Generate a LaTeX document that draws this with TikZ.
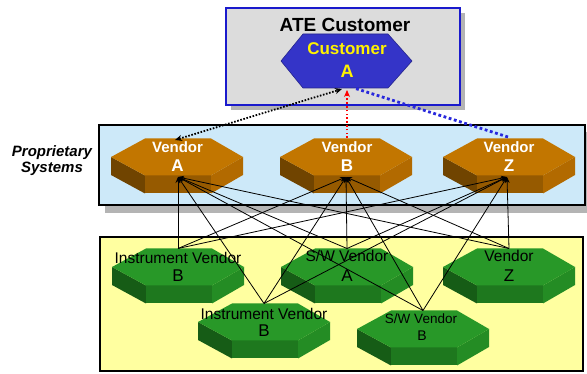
\documentclass[tikz,border=0pt]{standalone}
\usepackage{fontspec}
\setmainfont{Liberation Sans}
\usetikzlibrary{arrows.meta}

% face colours of the prisms
\definecolor{orTop}{RGB}{194,118,0}
\definecolor{orLeft}{RGB}{112,68,0}
\definecolor{orFront}{RGB}{150,90,0}
\definecolor{orRight}{RGB}{178,106,0}
\definecolor{grTop}{RGB}{40,152,40}
\definecolor{grLeft}{RGB}{22,92,22}
\definecolor{grFront}{RGB}{30,120,30}
\definecolor{grRight}{RGB}{36,140,36}
\definecolor{custBlue}{RGB}{52,52,200}
\definecolor{frameBlue}{RGB}{26,26,204}
\definecolor{panelGray}{RGB}{220,220,220}
\definecolor{panelBlue}{RGB}{205,233,249}
\definecolor{panelYellow}{RGB}{255,255,160}
\definecolor{shadowGray}{RGB}{180,180,180}
\definecolor{dotBlue}{RGB}{40,40,220}

% hexagonal prism: #1 centre of top face, #2..#5 top/left/front/right colours
\newcommand\drawprism[5]{%
  \begin{scope}[shift={#1}]
    \fill[#3] (-66,0) -- (-32,18.5) -- (-32,36.5) -- (-66,18) -- cycle;
    \fill[#4] (-32,18.5) -- (34,18.5) -- (34,36.5) -- (-32,36.5) -- cycle;
    \fill[#5] (34,18.5) -- (66,0) -- (66,18) -- (34,36.5) -- cycle;
    \fill[#2] (-32,-18.5) -- (34,-18.5) -- (66,0) -- (34,18.5) -- (-32,18.5) -- (-66,0) -- cycle;
  \end{scope}}

\tikzset{
  panel/.style={line width=1.8pt},
  shadow/.style={fill=shadowGray},
  link/.style={line width=0.8pt, -{Stealth[length=6pt,width=5pt]}},
  vtxt/.style={anchor=base, text=white, font=\bfseries\fontsize{15}{15}\selectfont, inner sep=0pt},
  vid/.style={anchor=base, text=white, font=\bfseries\fontsize{17}{17}\selectfont, inner sep=0pt},
  gtxt/.style={anchor=base, text=black, font=\fontsize{15.5}{15.5}\selectfont, inner sep=0pt},
  gid/.style={anchor=base, text=black, font=\fontsize{17}{17}\selectfont, inner sep=0pt},
}

\begin{document}
\begin{tikzpicture}[x=1pt, y=-1pt]
  \useasboundingbox[fill=white] (0,0) rectangle (587,374);

  % panels with drop shadows
  \fill[shadow] (231,13) rectangle (465,110);
  \draw[panel, draw=frameBlue, fill=panelGray, line width=2.5pt] (226,8) rectangle (460,105);
  \fill[shadow] (105,132) rectangle (591,213);
  \draw[panel, fill=panelBlue] (99,125) rectangle (585,205);
  \draw[panel, fill=panelYellow] (100,237) rectangle (583,371);

  % customer hexagon
  \filldraw[fill=custBlue, draw=custBlue!70!black, line width=0.6pt]
    (303,34) -- (388,34) -- (412,61) -- (388,88) -- (303,88) -- (281,61) -- cycle;

  % vendor prisms
  \drawprism{(177,157)}{orTop}{orLeft}{orFront}{orRight}
  \drawprism{(346,157)}{orTop}{orLeft}{orFront}{orRight}
  \drawprism{(509,157)}{orTop}{orLeft}{orFront}{orRight}

  % supplier prisms
  \drawprism{(178,267)}{grTop}{grLeft}{grFront}{grRight}
  \drawprism{(347,267)}{grTop}{grLeft}{grFront}{grRight}
  \drawprism{(509,267)}{grTop}{grLeft}{grFront}{grRight}
  \drawprism{(264,322)}{grTop}{grLeft}{grFront}{grRight}
  \drawprism{(423,329)}{grTop}{grLeft}{grFront}{grRight}

  % labels
  \node[anchor=base, inner sep=0pt, font=\bfseries\fontsize{19}{19}\selectfont] (ate) at (345,32) {ATE Customer};
  \node[anchor=base, inner sep=0pt, text=yellow, font=\bfseries\fontsize{17}{17}\selectfont] (custname) at (347,55) {Customer};
  \node[anchor=base, inner sep=0pt, text=yellow, font=\bfseries\fontsize{18}{18}\selectfont] (custid) at (347,78) {A};
  \node[anchor=base, inner sep=0pt, font=\bfseries\itshape\fontsize{15}{15}\selectfont] (prop1) at (52,157) {Proprietary};
  \node[anchor=base, inner sep=0pt, font=\bfseries\itshape\fontsize{15}{15}\selectfont] (prop2) at (52,173) {Systems};

  \node[vtxt] (vaname) at (177.5,153) {Vendor};
  \node[vid]  (vaid)   at (177.5,172) {A};
  \node[vtxt] (vbname) at (347,153) {Vendor};
  \node[vid]  (vbid)   at (347,172) {B};
  \node[vtxt] (vzname) at (509,153) {Vendor};
  \node[vid]  (vzid)   at (509,172) {Z};

  \node[gtxt] (ib1name) at (178,264) {Instrument Vendor};
  \node[gid]  (ib1id)   at (178,282) {B};
  \node[gtxt] (swaname) at (347,262) {S/W Vendor};
  \node[gid]  (swaid)   at (347,282) {A};
  \node[gtxt] (gzname)  at (509,262) {Vendor};
  \node[gid]  (gzid)    at (509,282) {Z};
  \node[gtxt] (ib2name) at (264,320) {Instrument Vendor};
  \node[gid]  (ib2id)   at (264,337) {B};
  \node[anchor=base, inner sep=0pt, font=\fontsize{13.5}{13.5}\selectfont] (swbname) at (421,324) {S/W Vendor};
  \node[anchor=base, inner sep=0pt, font=\fontsize{14}{14}\selectfont] (swbid) at (422,341) {B};

  % connection points
  \coordinate (vaIn) at (178,177);
  \coordinate (vbIn) at (346,177);
  \coordinate (vzIn) at (507,177);
  \coordinate (vaTop) at (175,140);
  \coordinate (vbTop) at (347,138);
  \coordinate (vzTop) at (508,137);
  \coordinate (custA) at (342,89);
  \coordinate (custB) at (347,90);
  \coordinate (custZ) at (354,88);
  \coordinate (ib1Top) at (178,248.5);
  \coordinate (swaTop) at (347,248.5);
  \coordinate (gzTop)  at (509,248.5);
  \coordinate (ib2Top) at (264,303.5);
  \coordinate (swbTop) at (423,310.5);

  % supplier to vendor links
  \foreach \g in {ib1Top,swaTop,gzTop,ib2Top,swbTop}{
    \foreach \v in {vaIn,vbIn,vzIn}{
      \draw[link] (\g) -- (\v);
    }
  }

  % vendor to customer links
  \draw[line width=1.8pt, dash pattern=on 1.6pt off 1.6pt,
        {Stealth[length=7pt,width=6pt]}-{Stealth[length=7pt,width=6pt]}] (vaTop) -- (custA);
  \draw[red, line width=1.6pt, dash pattern=on 1.6pt off 2.2pt,
        -{Stealth[length=7pt,width=6pt]}] (vbTop) -- (custB);
  \draw[dotBlue, line width=2.8pt, dash pattern=on 2.8pt off 2.6pt] (vzTop) -- (custZ);
\end{tikzpicture}
\end{document}
